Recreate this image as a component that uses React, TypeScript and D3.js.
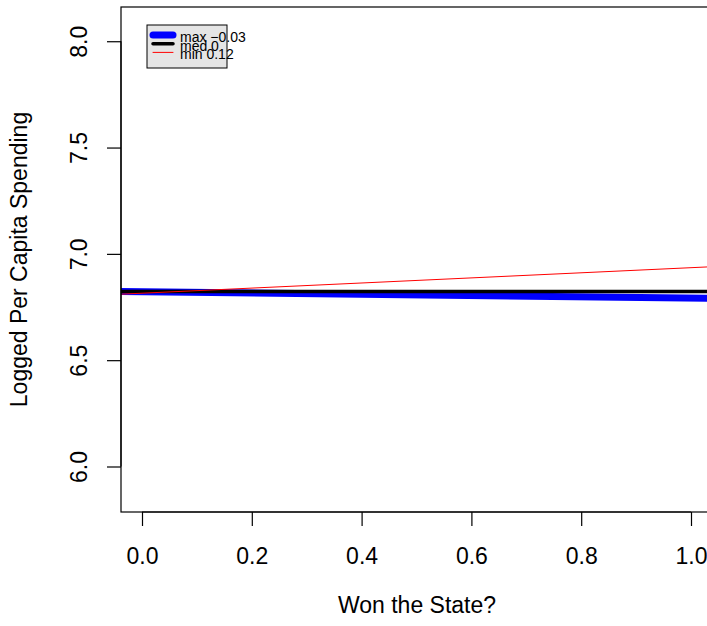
import React, { useEffect, useRef } from "react";
import * as d3 from "d3";

// fitted lines: slope and intercept for each quantile
const seriesNames = ["max", "med", "min"];
const slopes = [-0.03, 0, 0.12];
const intercepts = [6.822, 6.823, 6.815];
const colors = ["#0000ff", "#000000", "#ff0000"];
const lineWidths = [7, 3.5, 1];

const xTicks = [0, 0.2, 0.4, 0.6, 0.8, 1.0];
const yTicks = [6.0, 6.5, 7.0, 7.5, 8.0];

const W = 707;
const H = 626;

export default function App() {
  const ref = useRef<SVGSVGElement>(null);

  useEffect(() => {
    document.body.style.margin = "0";
    if (!ref.current) return;
    const svg = d3.select(ref.current);
    svg.selectAll("*").remove();

    const font = "'Liberation Sans', Arial, Helvetica, sans-serif";
    const fs = "23px";
    const plot = { left: 121, right: 713, top: 7, bottom: 512 };

    const x = d3.scaleLinear().domain([-0.04, 1.04]).range([120.04, 712.96]);
    const y = d3.scaleLinear().domain([5.786, 8.161]).range([plot.bottom, plot.top]);

    svg
      .append("defs")
      .append("clipPath")
      .attr("id", "plot-clip")
      .append("rect")
      .attr("x", plot.left)
      .attr("y", plot.top)
      .attr("width", plot.right - plot.left)
      .attr("height", plot.bottom - plot.top);

    // lines (abline style, spanning the whole plot region)
    const g = svg.append("g").attr("clip-path", "url(#plot-clip)");
    const [x0, x1] = x.domain();
    const line = d3
      .line<number>()
      .x((d) => x(d))
      .y((d) => y(d));
    seriesNames.forEach((_, i) => {
      g.append("path")
        .datum([x0, x1])
        .attr("fill", "none")
        .attr("stroke", colors[i])
        .attr("stroke-width", lineWidths[i])
        .attr("d", line.y((d) => y(intercepts[i] + slopes[i] * d)));
    });

    // box
    svg
      .append("rect")
      .attr("x", plot.left)
      .attr("y", plot.top)
      .attr("width", plot.right - plot.left)
      .attr("height", plot.bottom - plot.top)
      .attr("fill", "none")
      .attr("stroke", "#000")
      .attr("stroke-width", 1.2);

    // x axis
    const xa = svg
      .append("g")
      .attr("transform", `translate(0,${plot.bottom})`)
      .call(d3.axisBottom(x).tickValues(xTicks).tickSize(14).tickFormat(d3.format(".1f")));
    xa.select(".domain")
      .attr("d", `M${x(xTicks[0])},0H${x(xTicks[xTicks.length - 1])}`)
      .attr("stroke-width", 1.2);
    xa.selectAll("line").attr("stroke-width", 1.2);
    xa.selectAll("text")
      .attr("dy", null)
      .attr("y", 52)
      .style("font-family", font)
      .style("font-size", fs)
      .attr("fill", "#000");

    // y axis
    const ya = svg
      .append("g")
      .attr("transform", `translate(${plot.left},0)`)
      .call(d3.axisLeft(y).tickValues(yTicks).tickSize(14).tickFormat(d3.format(".1f")));
    ya.select(".domain")
      .attr("d", `M0,${y(yTicks[0])}V${y(yTicks[yTicks.length - 1])}`)
      .attr("stroke-width", 1.2);
    ya.selectAll("line").attr("stroke-width", 1.2);
    ya.selectAll("text")
      .attr("x", null)
      .attr("dy", null)
      .attr("text-anchor", "middle")
      .attr("transform", "translate(-34,0) rotate(-90)")
      .style("font-family", font)
      .style("font-size", fs)
      .attr("fill", "#000");

    // axis titles
    svg
      .append("text")
      .attr("x", (plot.left + plot.right) / 2)
      .attr("y", 613)
      .attr("text-anchor", "middle")
      .style("font-family", font)
      .style("font-size", fs)
      .text("Won the State?");

    svg
      .append("text")
      .attr("transform", `translate(27,${(plot.top + plot.bottom) / 2}) rotate(-90)`)
      .attr("text-anchor", "middle")
      .style("font-family", font)
      .style("font-size", fs)
      .text("Logged Per Capita Spending");

    // legend
    const lg = svg.append("g");
    lg.append("rect")
      .attr("x", 147)
      .attr("y", 25)
      .attr("width", 80)
      .attr("height", 43)
      .attr("fill", "#e5e5e5")
      .attr("stroke", "#000")
      .attr("stroke-width", 1);
    seriesNames.forEach((name, i) => {
      const ry = 35 + i * 8.7;
      lg.append("line")
        .attr("x1", 153)
        .attr("x2", 173)
        .attr("y1", ry)
        .attr("y2", ry)
        .attr("stroke", colors[i])
        .attr("stroke-width", lineWidths[i])
        .attr("stroke-linecap", "round");
      lg.append("text")
        .attr("x", 180)
        .attr("y", ry + 7)
        .style("font-family", font)
        .style("font-size", "14px")
        .text(`${name} ${slopes[i] < 0 ? "\u2212" + Math.abs(slopes[i]) : slopes[i]}`);
    });
  }, []);

  return <svg ref={ref} width={W} height={H} style={{ display: "block", background: "#fff" }} />;
}
